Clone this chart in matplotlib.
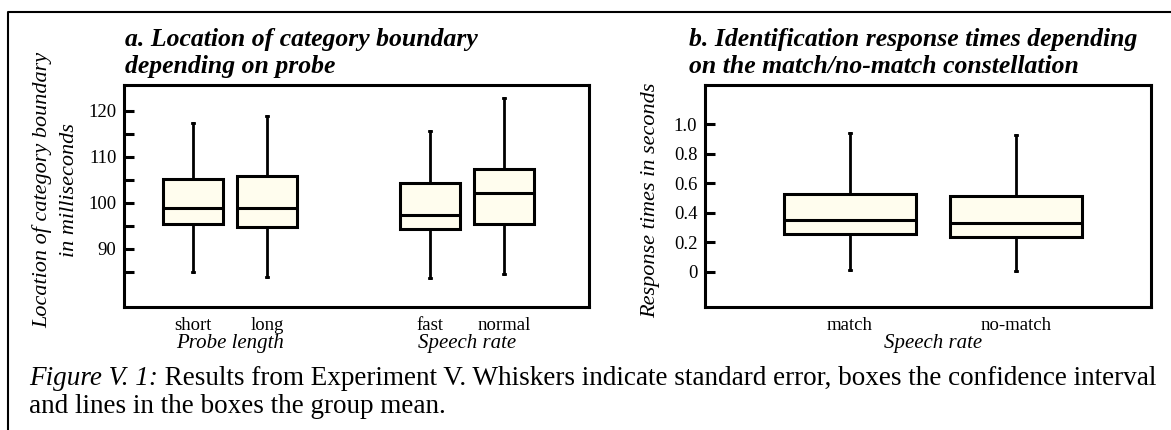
import matplotlib
matplotlib.use('Agg')
import matplotlib.pyplot as plt
from matplotlib.lines import Line2D
from matplotlib.ticker import FixedLocator

plt.rcParams['font.family'] = ['Liberation Serif', 'DejaVu Serif']

# a. category boundary (ms): group mean, confidence interval, standard error
cats_a = ['short', 'long', 'fast', 'normal']
groups_a = ['Probe length', 'Speech rate']
mean_a = [99.0, 98.8, 97.3, 102.1]
ci_lo_a = [95.4, 94.7, 94.3, 95.4]
ci_hi_a = [105.2, 105.9, 104.4, 107.4]
se_lo_a = [85.1, 84.0, 83.6, 84.6]
se_hi_a = [117.3, 118.8, 115.7, 122.8]
yticks_a = [90, 100, 110, 120]
yminor_a = [85, 95, 105, 115]

# b. identification response times (s)
cats_b = ['match', 'no-match']
group_b = 'Speech rate'
mean_b = [0.350, 0.333]
ci_lo_b = [0.255, 0.237]
ci_hi_b = [0.526, 0.512]
se_lo_b = [0.011, 0.005]
se_hi_b = [0.937, 0.926]
yticks_b = [0, 0.2, 0.4, 0.6, 0.8, 1.0]
ylabels_b = ['0', '0.2', '0.4', '0.6', '0.8', '1.0']

FILL = '#fffdee'
LW = 2.2
W, H = 1171, 430


def box_stats(mean, lo, hi, wlo, whi):
    return [dict(med=m, q1=l, q3=h, whislo=a, whishi=b)
            for m, l, h, a, b in zip(mean, lo, hi, wlo, whi)]


def draw_boxes(ax, stats, pos, width, capw):
    # tiny caps give the whisker ends their small dot
    ax.bxp(stats, positions=pos, widths=width, capwidths=capw,
           patch_artist=True, showfliers=False, manage_ticks=False,
           boxprops=dict(facecolor=FILL, edgecolor='black', linewidth=LW),
           medianprops=dict(color='black', linewidth=LW),
           whiskerprops=dict(color='black', linewidth=2.0),
           capprops=dict(color='black', linewidth=2.0))


def style_axes(ax):
    for sp in ax.spines.values():
        sp.set_linewidth(LW)
    ax.tick_params(axis='y', which='both', direction='in', length=7.5,
                   width=LW, pad=5.5, labelsize=13.5)
    ax.tick_params(axis='x', length=0, pad=7, labelsize=13.5)


fig = plt.figure(figsize=(W / 100, H / 100), dpi=100)

# panel a
ax1 = fig.add_axes([124 / W, 1 - 307 / H, 465 / W, 222 / H])
pos_a = [1, 2, 4.2, 5.2]
draw_boxes(ax1, box_stats(mean_a, ci_lo_a, ci_hi_a, se_lo_a, se_hi_a),
           pos_a, 0.81, 0.035)
ax1.set_xlim(0.07, 6.35)
ax1.set_ylim(77.4, 125.6)
ax1.set_yticks(yticks_a)
ax1.yaxis.set_minor_locator(FixedLocator(yminor_a))
ax1.set_xticks(pos_a, cats_a)
style_axes(ax1)
for g, x in zip(groups_a, [1.5, 4.7]):
    ax1.text(x, -0.165, g, transform=ax1.get_xaxis_transform(),
             ha='center', va='center', style='italic', fontsize=15)

# panel b
ax2 = fig.add_axes([705 / W, 1 - 307 / H, 446 / W, 222 / H])
pos_b = [1, 2]
draw_boxes(ax2, box_stats(mean_b, ci_lo_b, ci_hi_b, se_lo_b, se_hi_b),
           pos_b, 0.795, 0.016)
ax2.set_xlim(0.127, 2.813)
ax2.set_ylim(-0.237, 1.264)
ax2.set_yticks(yticks_b, ylabels_b)
ax2.set_xticks(pos_b, cats_b)
style_axes(ax2)
ax2.text(1.5, -0.165, group_b, transform=ax2.get_xaxis_transform(),
         ha='center', va='center', style='italic', fontsize=15)

# y-axis titles
fig.text(42 / W, 1 - 190 / H, 'Location of category boundary', rotation=90,
         ha='center', va='center', style='italic', fontsize=16)
fig.text(69 / W, 1 - 190 / H, 'in milliseconds', rotation=90,
         ha='center', va='center', style='italic', fontsize=16)
fig.text(651 / W, 1 - 200 / H, 'Response times in seconds', rotation=90,
         ha='center', va='center', style='italic', fontsize=16)

# panel headings
title_kw = dict(ha='left', va='baseline', style='italic', weight='bold',
                fontsize=18.5)
fig.text(125 / W, 1 - 46 / H, 'a. Location of category boundary', **title_kw)
fig.text(125 / W, 1 - 73 / H, 'depending on probe', **title_kw)
fig.text(689 / W, 1 - 46 / H, 'b. Identification response times depending',
         **title_kw)
fig.text(689 / W, 1 - 73 / H, 'on the match/no-match constellation',
         **title_kw)

# caption
cap_kw = dict(fontsize=19.5, va='baseline')
cap = fig.text(29 / W, 1 - 385 / H, 'Figure V. 1:', style='italic', **cap_kw)
r = fig.canvas.get_renderer()
x_end = cap.get_window_extent(r).x1 / W
fig.text(x_end, 1 - 385 / H,
         ' Results from Experiment V. Whiskers indicate standard error, '
         'boxes the confidence interval', **cap_kw)
fig.text(29 / W, 1 - 413 / H, 'and lines in the boxes the group mean.',
         **cap_kw)

# page frame
fig.add_artist(Line2D([8 / W, 8 / W, 1], [0, 1 - 12 / H, 1 - 12 / H],
                      transform=fig.transFigure, color='black', lw=1.5))

fig.savefig('out.png', dpi=100)
